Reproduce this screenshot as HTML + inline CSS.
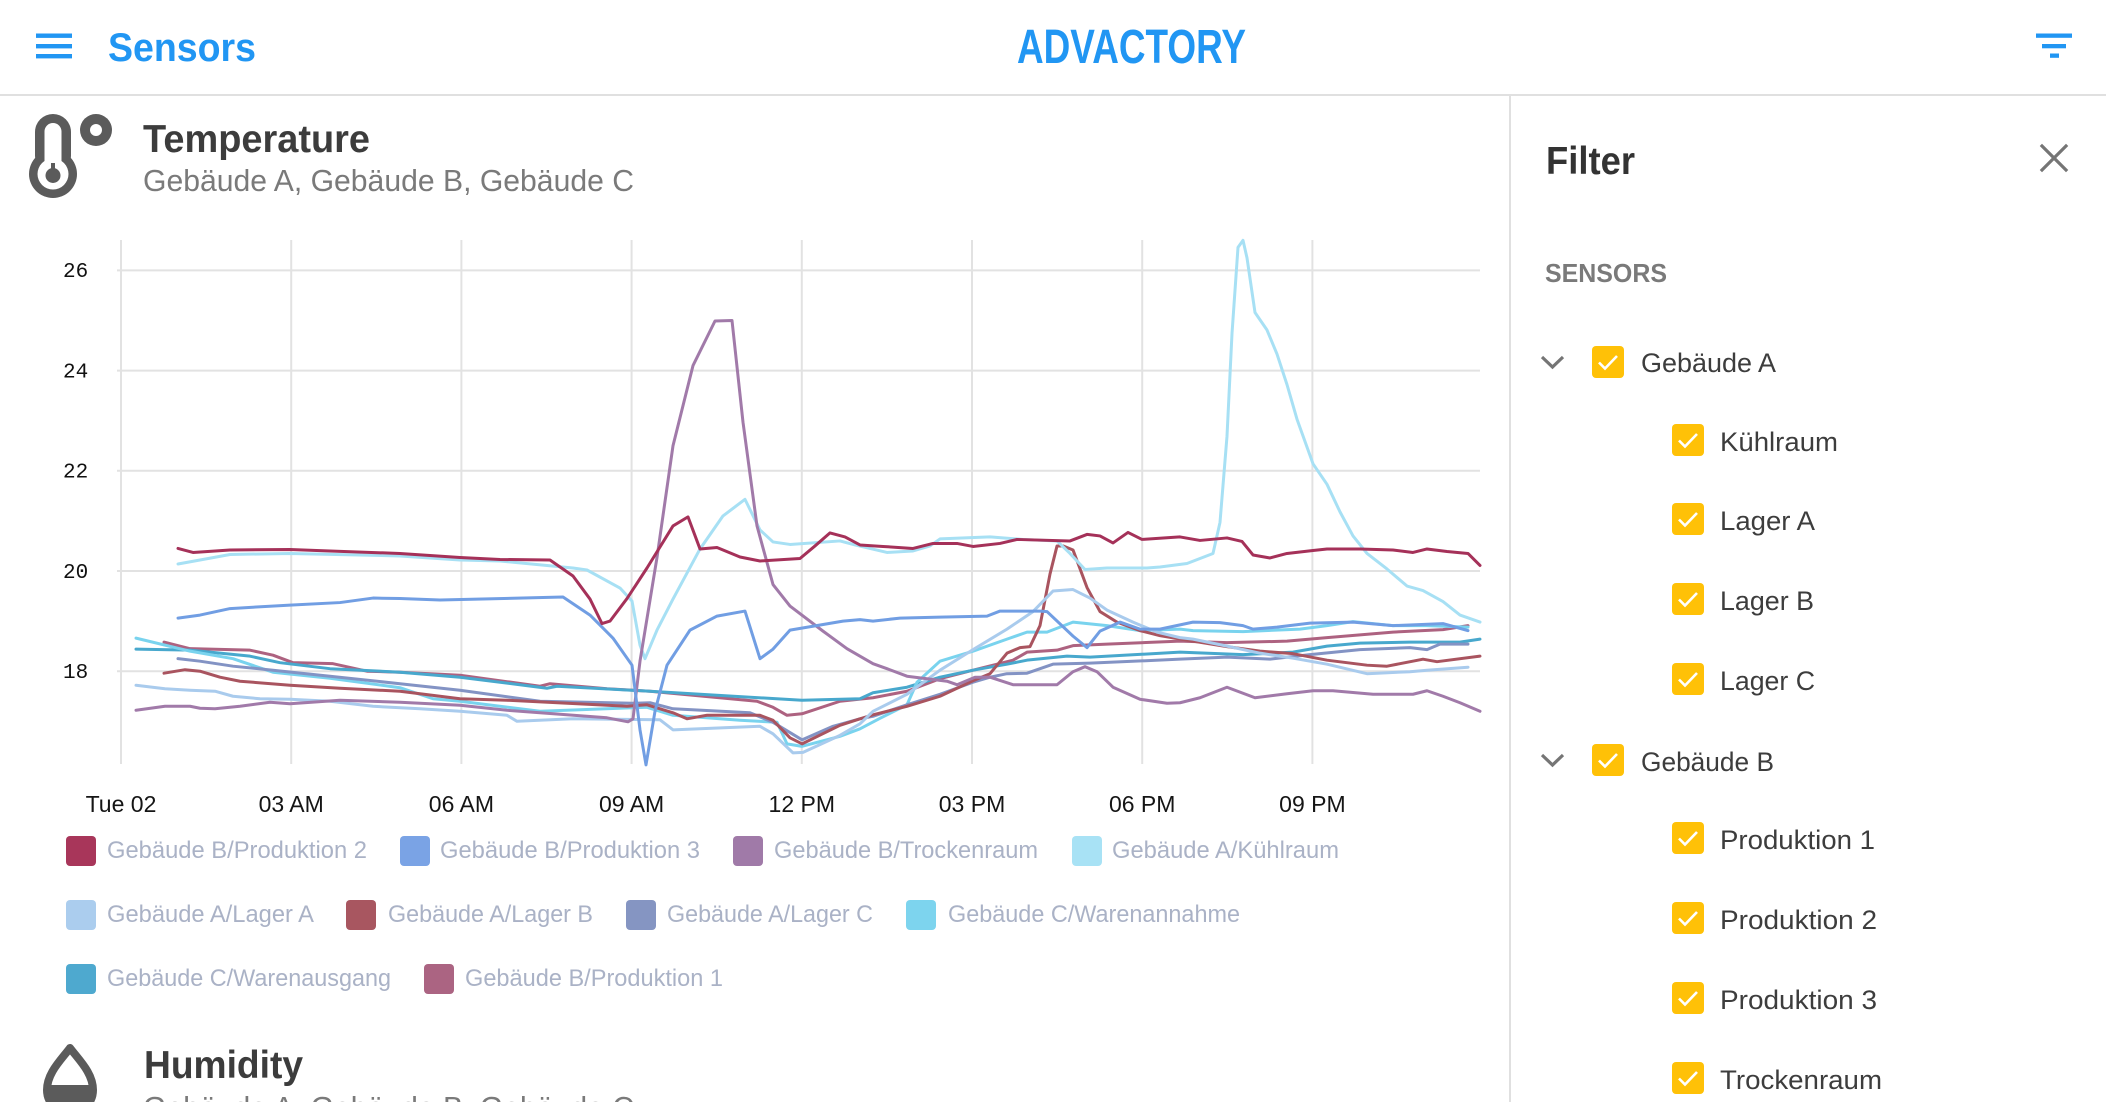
<!DOCTYPE html>
<html>
<head>
<meta charset="utf-8">
<style>
html,body{margin:0;padding:0;background:#fff;overflow:hidden;}
body{width:2106px;height:1102px;position:relative;}
svg{position:absolute;left:0;top:0;}
text{font-family:"Liberation Sans",sans-serif;}
.ln{fill:none;stroke-width:3;stroke-linejoin:round;stroke-linecap:round;vector-effect:non-scaling-stroke;}
</style>
</head>
<body>
<svg width="2106" height="1102" viewBox="0 0 2106 1102" xmlns="http://www.w3.org/2000/svg">
  <!-- Header -->
  <rect x="36" y="33.5" width="36" height="4.4" fill="#2196f3"/>
  <rect x="36" y="44" width="36" height="4.4" fill="#2196f3"/>
  <rect x="36" y="54" width="36" height="4.4" fill="#2196f3"/>
  <text x="108" y="61" font-size="40" font-weight="bold" fill="#2196f3" textLength="148" lengthAdjust="spacingAndGlyphs">Sensors</text>
  <text x="1017" y="63" font-size="48" font-weight="bold" fill="#2196f3" textLength="229" lengthAdjust="spacingAndGlyphs">ADVACTORY</text>
  <rect x="2036" y="33.5" width="36" height="4.3" fill="#2196f3"/>
  <rect x="2042" y="44" width="24" height="4.3" fill="#2196f3"/>
  <rect x="2050" y="53.5" width="9" height="4.3" fill="#2196f3"/>
  <rect x="0" y="94" width="2106" height="2" fill="#e0e0e0"/>
  <rect x="1509" y="96" width="2" height="1006" fill="#e0e0e0"/>

  <!-- Thermometer icon -->
  <g fill="#5b5b5b">
    <rect x="35" y="114" width="36" height="60" rx="18"/>
    <circle cx="53" cy="174" r="24"/>
    <circle cx="96" cy="130" r="16"/>
  </g>
  <g fill="#fff">
    <rect x="44.5" y="123" width="17" height="50" rx="8.5"/>
    <circle cx="53" cy="174" r="15.5"/>
    <circle cx="96" cy="130" r="6"/>
  </g>
  <g fill="#5b5b5b">
    <circle cx="53" cy="175.5" r="7.5"/>
    <rect x="51" y="163" width="4" height="12"/>
  </g>
  <text x="143" y="152" font-size="39" font-weight="bold" fill="#3c3c3c" textLength="227" lengthAdjust="spacingAndGlyphs">Temperature</text>
  <text x="143" y="191" font-size="31" fill="#7a7a7a" textLength="491" lengthAdjust="spacingAndGlyphs">Gebäude A, Gebäude B, Gebäude C</text>

  <!-- Grid -->
  <g stroke="#e2e2e2" stroke-width="2">
    <line x1="117" y1="270.4" x2="1480" y2="270.4"/>
    <line x1="117" y1="370.6" x2="1480" y2="370.6"/>
    <line x1="117" y1="470.8" x2="1480" y2="470.8"/>
    <line x1="117" y1="571" x2="1480" y2="571"/>
    <line x1="117" y1="671.2" x2="1480" y2="671.2"/>
    <line x1="121" y1="240" x2="121" y2="764"/>
    <line x1="291.2" y1="240" x2="291.2" y2="764"/>
    <line x1="461.4" y1="240" x2="461.4" y2="764"/>
    <line x1="631.6" y1="240" x2="631.6" y2="764"/>
    <line x1="801.8" y1="240" x2="801.8" y2="764"/>
    <line x1="972" y1="240" x2="972" y2="764"/>
    <line x1="1142.2" y1="240" x2="1142.2" y2="764"/>
    <line x1="1312.4" y1="240" x2="1312.4" y2="764"/>
  </g>
  <g font-size="21" fill="#111">
    <text x="63" y="277" style="font-family:'Liberation Mono',monospace">26</text>
    <text x="63" y="377.5" style="font-family:'Liberation Mono',monospace">24</text>
    <text x="63" y="477.5" style="font-family:'Liberation Mono',monospace">22</text>
    <text x="63" y="578" style="font-family:'Liberation Mono',monospace">20</text>
    <text x="63" y="678" style="font-family:'Liberation Mono',monospace">18</text>
  </g>
  <g font-size="23" fill="#151515" text-anchor="middle">
    <text x="121" y="812">Tue 02</text>
    <text x="291.2" y="812">03 AM</text>
    <text x="461.4" y="812">06 AM</text>
    <text x="631.6" y="812">09 AM</text>
    <text x="801.8" y="812">12 PM</text>
    <text x="972" y="812">03 PM</text>
    <text x="1142.2" y="812">06 PM</text>
    <text x="1312.4" y="812">09 PM</text>
  </g>

  <!-- Series -->
  <g transform="matrix(1,0,0,-50.1,0,1573)">
    <!-- B/Produktion 1 -->
    <polyline class="ln" stroke="#ad6280" points="164,18.58 190,18.45 250,18.42 273,18.32 293,18.17 333,18.15 367,18.0 400,17.98 460,17.92 540,17.7 550,17.75 607,17.65 650,17.6 757,17.4 773,17.28 787,17.12 802,17.15 840,17.4 873,17.47 907,17.6 940,17.85 973,18.02 1013,18.22 1027,18.38 1057,18.42 1073,18.51 1107,18.54 1180,18.6 1227,18.57 1287,18.6 1327,18.67 1393,18.78 1443,18.83 1468,18.91"/>
    <!-- C/Warenausgang -->
    <polyline class="ln" stroke="#48a8cd" points="136,18.44 190,18.42 250,18.3 280,18.17 330,18.05 400,17.98 460,17.88 547,17.66 557,17.7 650,17.6 802,17.42 860,17.45 873,17.57 907,17.68 940,17.88 973,18.02 1007,18.14 1027,18.22 1067,18.3 1090,18.28 1180,18.38 1243,18.33 1293,18.38 1327,18.5 1360,18.56 1410,18.58 1460,18.58 1480,18.64"/>
    <!-- C/Warenannahme -->
    <polyline class="ln" stroke="#79d3ee" points="136,18.66 190,18.4 233,18.25 273,17.98 330,17.86 400,17.67 433,17.45 460,17.4 540,17.2 647,17.28 673,17.12 740,17.02 777,16.98 787,16.55 802,16.5 840,16.7 860,16.85 880,17.06 907,17.33 917,17.78 940,18.2 973,18.4 1007,18.64 1027,18.78 1047,18.78 1073,18.98 1107,18.91 1140,18.81 1180,18.84 1193,18.81 1243,18.79 1300,18.84 1327,18.91 1353,18.99 1393,18.91 1427,18.91 1468,18.88"/>
    <!-- A/Lager C -->
    <polyline class="ln" stroke="#8393c4" points="178,18.25 200,18.2 233,18.1 273,18.02 330,17.9 400,17.75 460,17.62 540,17.4 633,17.36 650,17.37 673,17.25 750,17.17 773,16.98 802,16.63 833,16.9 860,17.05 873,17.1 907,17.33 940,17.54 973,17.78 990,17.88 1007,17.95 1027,17.96 1053,18.14 1090,18.16 1180,18.24 1227,18.28 1270,18.24 1310,18.33 1360,18.43 1410,18.47 1427,18.43 1440,18.54 1468,18.54"/>
    <!-- A/Lager B -->
    <polyline class="ln" stroke="#a9545f" points="164,17.96 185,18.03 200,18.0 220,17.88 240,17.8 290,17.72 340,17.66 400,17.6 460,17.45 507,17.42 627,17.3 647,17.33 673,17.17 687,17.05 707,17.12 760,17.12 773,17.02 790,16.67 802,16.55 840,16.92 860,17.05 873,17.13 907,17.3 940,17.5 973,17.81 990,17.95 1007,18.36 1020,18.47 1030,18.49 1040,18.91 1050,19.94 1057,20.5 1063,20.5 1073,20.42 1087,19.67 1100,19.19 1117,18.98 1140,18.81 1160,18.71 1193,18.6 1227,18.49 1260,18.4 1293,18.35 1327,18.22 1367,18.12 1387,18.1 1423,18.24 1437,18.19 1480,18.3"/>
    <!-- A/Lager A -->
    <polyline class="ln" stroke="#a9cbed" points="136,17.72 165,17.65 190,17.62 215,17.6 233,17.5 260,17.45 290,17.44 330,17.4 373,17.3 420,17.25 460,17.2 507,17.12 517,17.0 573,17.05 660,17.03 673,16.83 760,16.9 773,16.75 793,16.37 803,16.38 840,16.72 860,16.95 873,17.2 907,17.54 940,18.02 973,18.43 1007,18.84 1033,19.19 1053,19.6 1073,19.63 1090,19.46 1107,19.22 1133,18.98 1157,18.78 1180,18.67 1193,18.64 1227,18.5 1260,18.36 1293,18.26 1327,18.14 1367,17.95 1410,17.99 1427,18.02 1468,18.08"/>
    <!-- A/Kühlraum -->
    <polyline class="ln" stroke="#a7e0f4" points="178,20.14 200,20.22 230,20.33 290,20.35 400,20.3 460,20.22 500,20.2 573,20.06 587,20.02 620,19.66 632,19.4 640,18.52 645,18.25 657,18.82 673,19.44 700,20.44 723,21.1 745,21.43 760,20.82 773,20.58 790,20.53 840,20.6 855,20.52 887,20.37 913,20.4 930,20.5 940,20.64 990,20.68 1023,20.63 1057,20.6 1070,20.35 1085,20.03 1107,20.06 1147,20.06 1160,20.08 1187,20.15 1213,20.35 1220,20.97 1227,22.69 1232,24.74 1238,26.46 1243,26.6 1247,26.25 1255,25.16 1267,24.81 1277,24.33 1287,23.72 1297,23.03 1313,22.14 1327,21.73 1340,21.18 1353,20.7 1367,20.35 1387,20.04 1407,19.7 1423,19.61 1443,19.39 1460,19.12 1480,18.98"/>
    <!-- B/Trockenraum -->
    <polyline class="ln" stroke="#a17aa9" points="136,17.22 165,17.3 190,17.3 200,17.26 215,17.25 240,17.3 270,17.38 290,17.35 340,17.42 400,17.38 460,17.32 507,17.22 607,17.07 628,16.99 633,17.05 640,18.2 657,20.27 673,22.5 693,24.1 715,24.99 732,25.0 743,22.97 757,20.9 773,19.73 790,19.3 823,18.8 847,18.45 860,18.3 873,18.15 887,18.05 907,17.9 927,17.85 947,17.8 957,17.73 975,17.88 990,17.88 1013,17.73 1057,17.73 1073,17.99 1085,18.09 1097,17.99 1113,17.68 1140,17.44 1167,17.36 1180,17.37 1200,17.47 1227,17.68 1255,17.47 1287,17.55 1313,17.61 1333,17.61 1373,17.54 1413,17.54 1427,17.61 1443,17.5 1460,17.37 1480,17.2"/>
    <!-- B/Produktion 3 -->
    <polyline class="ln" stroke="#719ee3" points="178,19.06 200,19.12 230,19.25 290,19.32 340,19.37 373,19.46 400,19.45 440,19.42 563,19.48 590,19.12 613,18.66 632,18.12 640,16.83 646,16.13 655,17.2 667,18.12 690,18.82 717,19.1 745,19.2 760,18.25 773,18.44 790,18.82 843,19.0 860,19.03 873,19.0 900,19.06 940,19.08 987,19.1 1000,19.2 1040,19.2 1047,19.19 1073,18.7 1087,18.47 1100,18.8 1120,18.98 1140,18.84 1160,18.84 1193,18.98 1220,18.97 1243,18.91 1253,18.84 1277,18.88 1310,18.96 1353,18.98 1393,18.91 1443,18.95 1468,18.81"/>
    <!-- B/Produktion 2 -->
    <polyline class="ln" stroke="#a53159" points="178,20.45 193,20.37 230,20.42 290,20.43 330,20.4 400,20.35 460,20.27 500,20.23 550,20.22 573,19.9 590,19.44 602,18.95 610,19.0 627,19.45 647,20.06 673,20.9 688,21.08 700,20.44 717,20.47 740,20.28 760,20.2 800,20.25 815,20.5 830,20.76 845,20.68 860,20.52 883,20.49 913,20.45 933,20.55 957,20.55 973,20.49 1000,20.55 1017,20.63 1070,20.6 1087,20.73 1100,20.7 1113,20.56 1128,20.77 1142,20.63 1180,20.68 1200,20.61 1227,20.66 1242,20.59 1253,20.32 1270,20.26 1287,20.35 1313,20.41 1327,20.44 1360,20.44 1393,20.42 1413,20.37 1427,20.44 1447,20.39 1468,20.35 1480,20.11"/>
  </g>

  <!-- Legend -->
  <g>
    <rect x="66" y="836" width="30" height="30" rx="4" fill="#a8365a"/>
    <text x="107" y="858" font-size="24" fill="#aab2c6" textLength="260" lengthAdjust="spacingAndGlyphs">Gebäude B/Produktion 2</text>
    <rect x="400" y="836" width="30" height="30" rx="4" fill="#7aa3e5"/>
    <text x="440" y="858" font-size="24" fill="#aab2c6" textLength="260" lengthAdjust="spacingAndGlyphs">Gebäude B/Produktion 3</text>
    <rect x="733" y="836" width="30" height="30" rx="4" fill="#a07aa8"/>
    <text x="774" y="858" font-size="24" fill="#aab2c6" textLength="264" lengthAdjust="spacingAndGlyphs">Gebäude B/Trockenraum</text>
    <rect x="1072" y="836" width="30" height="30" rx="4" fill="#a8e2f5"/>
    <text x="1112" y="858" font-size="24" fill="#aab2c6" textLength="227" lengthAdjust="spacingAndGlyphs">Gebäude A/Kühlraum</text>

    <rect x="66" y="900" width="30" height="30" rx="4" fill="#abcdee"/>
    <text x="107" y="922" font-size="24" fill="#aab2c6" textLength="207" lengthAdjust="spacingAndGlyphs">Gebäude A/Lager A</text>
    <rect x="346" y="900" width="30" height="30" rx="4" fill="#a85660"/>
    <text x="388" y="922" font-size="24" fill="#aab2c6" textLength="205" lengthAdjust="spacingAndGlyphs">Gebäude A/Lager B</text>
    <rect x="626" y="900" width="30" height="30" rx="4" fill="#8595c2"/>
    <text x="667" y="922" font-size="24" fill="#aab2c6" textLength="206" lengthAdjust="spacingAndGlyphs">Gebäude A/Lager C</text>
    <rect x="906" y="900" width="30" height="30" rx="4" fill="#7dd4ee"/>
    <text x="948" y="922" font-size="24" fill="#aab2c6" textLength="292" lengthAdjust="spacingAndGlyphs">Gebäude C/Warenannahme</text>

    <rect x="66" y="964" width="30" height="30" rx="4" fill="#4ea9cf"/>
    <text x="107" y="986" font-size="24" fill="#aab2c6" textLength="284" lengthAdjust="spacingAndGlyphs">Gebäude C/Warenausgang</text>
    <rect x="424" y="964" width="30" height="30" rx="4" fill="#ab6482"/>
    <text x="465" y="986" font-size="24" fill="#aab2c6" textLength="258" lengthAdjust="spacingAndGlyphs">Gebäude B/Produktion 1</text>
  </g>

  <!-- Humidity -->
  <defs>
    <clipPath id="lowhalf"><rect x="0" y="1085" width="200" height="60"/></clipPath>
  </defs>
  <path d="M70 1048 C61 1060 47 1073 47 1090 A23 23 0 0 0 93 1090 C93 1073 79 1060 70 1048 Z" fill="none" stroke="#5b5b5b" stroke-width="8" stroke-linejoin="round"/>
  <path d="M70 1048 C61 1060 47 1073 47 1090 A23 23 0 0 0 93 1090 C93 1073 79 1060 70 1048 Z" fill="#5b5b5b" clip-path="url(#lowhalf)"/>
  <text x="144" y="1078" font-size="39" font-weight="bold" fill="#3c3c3c" textLength="159" lengthAdjust="spacingAndGlyphs">Humidity</text>
  <text x="143" y="1118" font-size="31" fill="#7a7a7a" textLength="491" lengthAdjust="spacingAndGlyphs">Gebäude A, Gebäude B, Gebäude C</text>

  <!-- Sidebar -->
  <text x="1546" y="174" font-size="39" font-weight="bold" fill="#333" textLength="89" lengthAdjust="spacingAndGlyphs">Filter</text>
  <g stroke="#757575" stroke-width="3.2" stroke-linecap="square">
    <line x1="2042" y1="146" x2="2066" y2="170"/>
    <line x1="2066" y1="146" x2="2042" y2="170"/>
  </g>
  <text x="1545" y="282" font-size="26" font-weight="bold" fill="#7a7a7a" textLength="122" lengthAdjust="spacingAndGlyphs">SENSORS</text>

  <polyline points="1542,357 1552.5,367 1563,357" fill="none" stroke="#757575" stroke-width="3.2"/>
  <polyline points="1542,755 1552.5,765 1563,755" fill="none" stroke="#757575" stroke-width="3.2"/>

  <g>
    <rect x="1592" y="346" width="32" height="32" rx="4" fill="#ffc107"/>
    <polyline points="1599,362.5 1605,368.5 1617,356" fill="none" stroke="#fff" stroke-width="2.6"/>
    <text x="1641" y="372" font-size="27" fill="#3d3d3d" textLength="135" lengthAdjust="spacingAndGlyphs">Gebäude A</text>

    <rect x="1672" y="424" width="32" height="32" rx="4" fill="#ffc107"/>
    <polyline points="1679,440.5 1685,446.5 1697,434" fill="none" stroke="#fff" stroke-width="2.6"/>
    <text x="1720" y="451" font-size="27" fill="#3d3d3d" textLength="118" lengthAdjust="spacingAndGlyphs">Kühlraum</text>

    <rect x="1672" y="503" width="32" height="32" rx="4" fill="#ffc107"/>
    <polyline points="1679,519.5 1685,525.5 1697,513" fill="none" stroke="#fff" stroke-width="2.6"/>
    <text x="1720" y="530" font-size="27" fill="#3d3d3d" textLength="95" lengthAdjust="spacingAndGlyphs">Lager A</text>

    <rect x="1672" y="583" width="32" height="32" rx="4" fill="#ffc107"/>
    <polyline points="1679,599.5 1685,605.5 1697,593" fill="none" stroke="#fff" stroke-width="2.6"/>
    <text x="1720" y="610" font-size="27" fill="#3d3d3d" textLength="94" lengthAdjust="spacingAndGlyphs">Lager B</text>

    <rect x="1672" y="663" width="32" height="32" rx="4" fill="#ffc107"/>
    <polyline points="1679,679.5 1685,685.5 1697,673" fill="none" stroke="#fff" stroke-width="2.6"/>
    <text x="1720" y="690" font-size="27" fill="#3d3d3d" textLength="95" lengthAdjust="spacingAndGlyphs">Lager C</text>

    <rect x="1592" y="744" width="32" height="32" rx="4" fill="#ffc107"/>
    <polyline points="1599,760.5 1605,766.5 1617,754" fill="none" stroke="#fff" stroke-width="2.6"/>
    <text x="1641" y="771" font-size="27" fill="#3d3d3d" textLength="133" lengthAdjust="spacingAndGlyphs">Gebäude B</text>

    <rect x="1672" y="822" width="32" height="32" rx="4" fill="#ffc107"/>
    <polyline points="1679,838.5 1685,844.5 1697,832" fill="none" stroke="#fff" stroke-width="2.6"/>
    <text x="1720" y="849" font-size="27" fill="#3d3d3d" textLength="155" lengthAdjust="spacingAndGlyphs">Produktion 1</text>

    <rect x="1672" y="902" width="32" height="32" rx="4" fill="#ffc107"/>
    <polyline points="1679,918.5 1685,924.5 1697,912" fill="none" stroke="#fff" stroke-width="2.6"/>
    <text x="1720" y="929" font-size="27" fill="#3d3d3d" textLength="157" lengthAdjust="spacingAndGlyphs">Produktion 2</text>

    <rect x="1672" y="982" width="32" height="32" rx="4" fill="#ffc107"/>
    <polyline points="1679,998.5 1685,1004.5 1697,992" fill="none" stroke="#fff" stroke-width="2.6"/>
    <text x="1720" y="1009" font-size="27" fill="#3d3d3d" textLength="157" lengthAdjust="spacingAndGlyphs">Produktion 3</text>

    <rect x="1672" y="1062" width="32" height="32" rx="4" fill="#ffc107"/>
    <polyline points="1679,1078.5 1685,1084.5 1697,1072" fill="none" stroke="#fff" stroke-width="2.6"/>
    <text x="1720" y="1089" font-size="27" fill="#3d3d3d" textLength="162" lengthAdjust="spacingAndGlyphs">Trockenraum</text>
  </g>
</svg>
</body>
</html>
